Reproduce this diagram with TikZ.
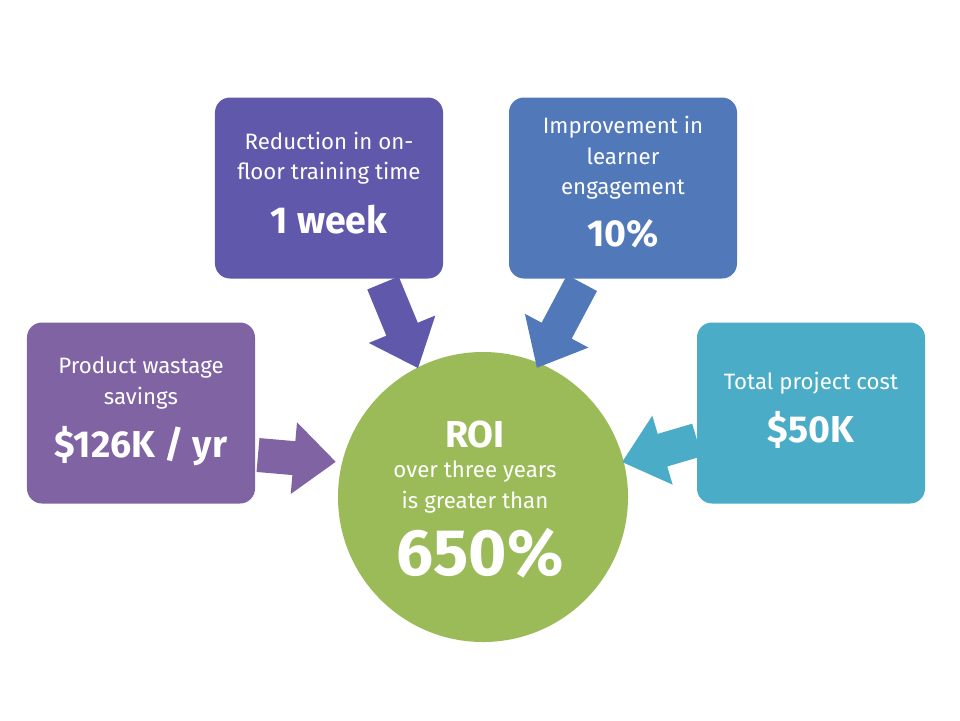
\documentclass[tikz,border=0pt]{standalone}
\usepackage{fontspec}
\setmainfont{Fira Sans}
\definecolor{cA}{HTML}{7F63A3}
\definecolor{cB}{HTML}{5F58AB}
\definecolor{cC}{HTML}{5179BA}
\definecolor{cD}{HTML}{4AACC6}
\definecolor{cE}{HTML}{9BBB59}
\newcommand{\blkarrow}[5]{%
  \begin{scope}[shift={(#1,#2)},rotate=-#3]
    \fill[#5] (0,-17) -- ({#4-42},-17) -- ({#4-42},-36) -- (#4,0) -- ({#4-42},36) -- ({#4-42},17) -- (0,17) -- cycle;
  \end{scope}}
\begin{document}
\begin{tikzpicture}[x=0.03cm,y=-0.03cm,
  box/.style={rounded corners=0.45cm,inner sep=0,minimum width=6.84cm,minimum height=5.43cm},
  sm/.style={font=\fontsize{19}{26}\selectfont,align=center,text=white},
  bg/.style={font=\fontsize{32}{36}\selectfont\bfseries,text=white}]
\useasboundingbox[fill=white] (0,0) rectangle (960,720);
\node[box,fill=cA] (b1) at (141,413) {};
\node[box,fill=cB] (b2) at (329,188) {};
\node[box,fill=cC] (b3) at (623,188) {};
\node[box,fill=cD] (b4) at (811,413) {};
\node[circle,fill=cE,minimum size=8.7cm,inner sep=0] (roi) at (483,497) {};
\blkarrow{258}{455}{5}{78}{cA}
\blkarrow{383}{283}{67.6}{92}{cB}
\blkarrow{582}{283}{118}{96}{cC}
\blkarrow{697}{440}{163.6}{78}{cD}
\node[sm] (t1) at (141,383) {Product wastage\\savings};
\node[bg] (n1) at (141,446) {\$126K / yr};
\node[sm] (t2) at (329,158) {Reduction in on-\\floor training time};
\node[bg] (n2) at (329,220) {1 week};
\node[sm] (t3) at (623,158) {Improvement in\\learner\\engagement};
\node[bg] (n3) at (623,234) {10\%};
\node[sm] (t4) at (811,383) {Total project cost};
\node[bg] (n4) at (811,430) {\$50K};
\node[bg] (r1) at (475,434) {ROI};
\node[sm] (r2) at (475,487) {over three years\\is greater than};
\node[font=\fontsize{56}{60}\selectfont\bfseries,text=white] (r3) at (480,553) {650\%};
\end{tikzpicture}
\end{document}
